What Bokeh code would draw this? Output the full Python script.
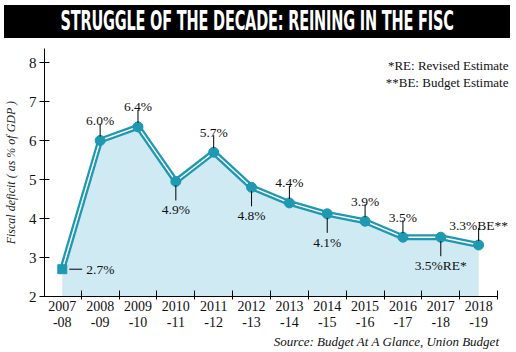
from bokeh.plotting import figure
from bokeh.models import Div, Label, FixedTicker, Range1d
from bokeh.layouts import column
from bokeh.embed import file_html
from bokeh.resources import INLINE

title_text = "STRUGGLE OF THE DECADE: REINING IN THE FISC"
years = ["2007\n-08", "2008\n-09", "2009\n-10", "2010\n-11", "2011\n-12", "2012\n-13",
         "2013\n-14", "2014\n-15", "2015\n-16", "2016\n-17", "2017\n-18", "2018\n-19"]
deficit = [2.7, 6.0, 6.35, 4.95, 5.7, 4.8, 4.4, 4.12, 3.93, 3.52, 3.52, 3.32]
value_labels = ["2.7%", "6.0%", "6.4%", "4.9%", "5.7%", "4.8%", "4.4%", "4.1%",
                "3.9%", "3.5%", "3.5%RE*", "3.3%BE**"]
label_side = ["right", "above", "above", "below", "above", "below", "above", "below",
              "above", "above", "below", "above"]
y_ticks = [2, 3, 4, 5, 6, 7, 8]
notes = ["*RE: Revised Estimate", "**BE: Budget Estimate"]
source_text = "Source: Budget At A Glance, Union Budget"

TEAL = "#1f98b2"
FILL = "#cfeaf3"
SERIF = "Liberation Serif"

xs = list(range(len(years)))

W, H = 516, 291
BL, BR, BT, BB = 42, 6, 5, 38
x0, x_axis_end = -0.47, len(years) - 0.5
y0, y1 = 2, 8.36
ppy = (H - BT - BB) / (y1 - y0)
ppx = 455 / (x_axis_end - x0)
x1 = x_axis_end + 13 / ppx

header = Div(
    text=('<div style="background:#000;height:33px;width:506px;margin:5px 0 0 4px;'
          'display:flex;align-items:center;justify-content:center;overflow:hidden;">'
          '<span style="color:#fff;font-family:\'DejaVu Sans Condensed\',\'DejaVu Sans\',sans-serif;'
          'font-stretch:condensed;font-weight:bold;font-size:26px;display:inline-block;'
          'transform:scaleX(0.62);white-space:nowrap;letter-spacing:-0.3px;">'
          + title_text + '</span></div>'),
    width=W, height=43, margin=0,
)

footer = Div(
    text=('<div style="width:499px;text-align:right;font-family:\'Liberation Serif\',serif;'
          'font-style:italic;font-size:13px;line-height:13px;color:#111;margin-top:-2px;">'
          + source_text + '</div>'),
    width=W, height=18, margin=0,
)

p = figure(width=W, height=H, output_backend="svg", toolbar_location=None,
           x_range=Range1d(x0, x1), y_range=Range1d(y0, y1),
           min_border_left=BL, min_border_right=BR, min_border_top=BT, min_border_bottom=BB,
           margin=0)
p.outline_line_color = None
p.grid.visible = False
p.background_fill_color = "white"

p.varea(x=xs, y1=[y0] * len(xs), y2=deficit, fill_color=FILL)
p.line(xs, deficit, line_color=TEAL, line_width=6, line_join="round")
p.line(xs, deficit, line_color="white", line_width=1.4, line_join="round")
p.scatter(xs[:1], deficit[:1], marker="square", size=9, color=TEAL)
p.scatter(xs[1:], deficit[1:], marker="circle", size=10, color=TEAL)

# leader lines and value labels
sx0, sx1, sy0, sy1 = [], [], [], []
for i, (v, t, side) in enumerate(zip(deficit, value_labels, label_side)):
    if side == "right":
        sx0.append(i + 7 / ppx); sx1.append(i + 20 / ppx); sy0.append(v); sy1.append(v)
        lab = Label(x=i, y=v, text=t, x_offset=24, text_align="left", text_baseline="middle")
    elif side == "above":
        sx0.append(i); sx1.append(i); sy0.append(v + 4 / ppy); sy1.append(v + 17 / ppy)
        lab = Label(x=i, y=v, text=t, y_offset=20, text_align="center", text_baseline="alphabetic")
    else:
        sx0.append(i); sx1.append(i); sy0.append(v - 4 / ppy); sy1.append(v - 19 / ppy)
        lab = Label(x=i, y=v, text=t, y_offset=-21, text_align="center", text_baseline="top")
    lab.text_font = SERIF
    lab.text_font_size = "13.5px"
    lab.text_color = "#111111"
    p.add_layout(lab)
p.segment(sx0, sy0, sx1, sy1, line_color="black", line_width=1)

# notes
for k, n in enumerate(notes):
    p.add_layout(Label(x=x1, y=y1, text=n, x_offset=-2, y_offset=-17 - 17 * k,
                       text_align="right", text_baseline="middle",
                       text_font=SERIF, text_font_size="13px", text_color="#111111"))

# x axis
xa = p.xaxis[0]
xa.bounds = (x0, x_axis_end)
xa.ticker = FixedTicker(ticks=xs, minor_ticks=[i + 0.5 for i in xs])
xa.major_label_overrides = {i: years[i] for i in xs}
xa.major_tick_line_color = None
xa.major_tick_in = 0
xa.major_tick_out = 0
xa.minor_tick_in = 6
xa.minor_tick_out = 3
xa.minor_tick_line_color = "black"
xa.axis_line_color = "black"
xa.major_label_standoff = -1
xa.major_label_text_font = SERIF
xa.major_label_text_font_size = "14px"
xa.major_label_text_color = "#111111"
xa.major_label_text_line_height = 1.08

# y axis
ya = p.yaxis[0]
ya.ticker = FixedTicker(ticks=y_ticks, minor_ticks=[])
ya.major_tick_in = 5
ya.major_tick_out = 5
ya.major_label_standoff = 3
ya.major_label_text_font = SERIF
ya.major_label_text_font_size = "15px"
ya.major_label_text_color = "#111111"
ya.axis_line_color = "black"
ya.axis_label = "Fiscal deficit ( as % of GDP )"
ya.axis_label_text_font = SERIF
ya.axis_label_text_font_style = "italic"
ya.axis_label_text_font_size = "12px"
ya.axis_label_text_color = "#222222"
ya.axis_label_standoff = 8

layout = column(header, p, footer, spacing=0, margin=0)
open("out.html", "w").write(file_html(layout, INLINE))
